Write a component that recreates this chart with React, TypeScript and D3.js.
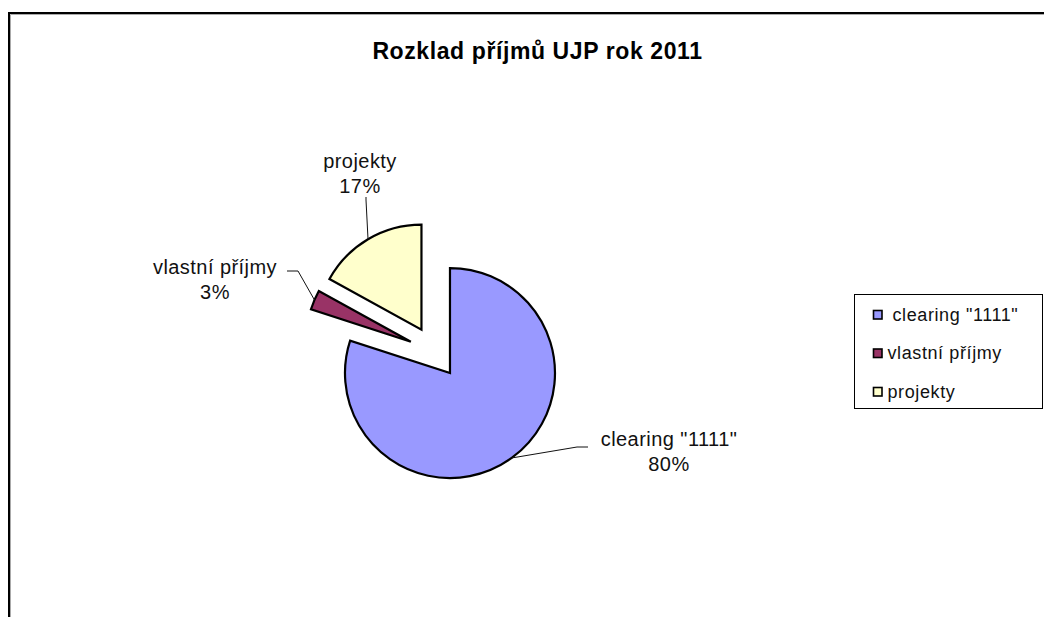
import * as d3 from 'd3';

const categories = ['clearing "1111"', 'vlastní příjmy', 'projekty'];
const shares = [80, 3, 17];
const colors = ['#9999FF', '#993366', '#FFFFCC'];
const title = 'Rozklad příjmů UJP rok 2011';

// label layout (centre x, first baseline) and leader start/elbow, hand-placed like Excel did
const labelPos = [
  { x: 669, y: 446, lead: [[588, 447], [577, 447]] },
  { x: 215, y: 274, lead: [[287, 271], [298, 271]] },
  { x: 360, y: 168, lead: [[366, 197], [366, 200]] },
];

const W = 1044;
const H = 617;
const cx = 434.7;
const cy = 352;
const radius = 105;
const explode = 26;
const font = "Arial, 'Liberation Sans', sans-serif";

export default function App() {
  const pie = d3.pie<number>().sort(null).startAngle(0).endAngle(2 * Math.PI);
  const arcs = pie(shares);
  const arc = d3.arc<d3.PieArcDatum<number>>().innerRadius(0).outerRadius(radius);
  const total = d3.sum(shares);

  return (
    <div style={{ position: 'absolute', left: 0, top: 0 }}>
      <svg width={W} height={H} style={{ display: 'block', background: '#fff' }}>
        {/* chart frame, running off the right and bottom edge */}
        <path d={`M10.5,${H + 10} V14.5 H${W + 10}`} fill="none" stroke="#aaa" strokeWidth={1} />
        <path d={`M9,${H + 10} V13 H${W + 10}`} fill="none" stroke="#000" strokeWidth={2} />

        <text x={537.5} y={59} textAnchor="middle" fontFamily={font} fontWeight="bold" fontSize={23}
          letterSpacing={0.6} fill="#000">{title}</text>

        {arcs.map((a, i) => {
          const mid = (a.startAngle + a.endAngle) / 2;
          const ox = cx + explode * Math.sin(mid);
          const oy = cy - explode * Math.cos(mid);
          const ex = ox + radius * Math.sin(mid);
          const ey = oy - radius * Math.cos(mid);
          const lp = labelPos[i];
          const pts = [...lp.lead, [ex, ey]];
          const pct = Math.round((a.value / total) * 100);
          return (
            <g key={categories[i]}>
              <path d={arc(a) ?? ''} transform={`translate(${ox},${oy})`} fill={colors[i]}
                stroke="#000" strokeWidth={2.2} strokeLinejoin="miter" />
              <path d={d3.line()(pts as [number, number][]) ?? ''} fill="none" stroke="#111" strokeWidth={1} />
              <text x={lp.x} y={lp.y} textAnchor="middle" fontFamily={font} fontSize={20}
                letterSpacing={0.45} fill="#111">
                <tspan x={lp.x}>{categories[i]}</tspan>
                <tspan x={lp.x} dy={24.5}>{pct}%</tspan>
              </text>
            </g>
          );
        })}

        <g transform="translate(854.5,294.5)">
          <rect width={188} height={114} fill="#fff" stroke="#000" strokeWidth={1} />
          {categories.map((c, i) => (
            <g key={c} transform={`translate(0,${20.5 + i * 38.5})`}>
              <rect x={19} y={-4.5} width={8.5} height={8.5} fill={colors[i]} stroke="#000" strokeWidth={1.6} />
              <text x={i === 0 ? 38 : 33} y={5.5} fontFamily={font} fontSize={18} letterSpacing={0.6}
                fill="#111">{c}</text>
            </g>
          ))}
        </g>
      </svg>
    </div>
  );
}
